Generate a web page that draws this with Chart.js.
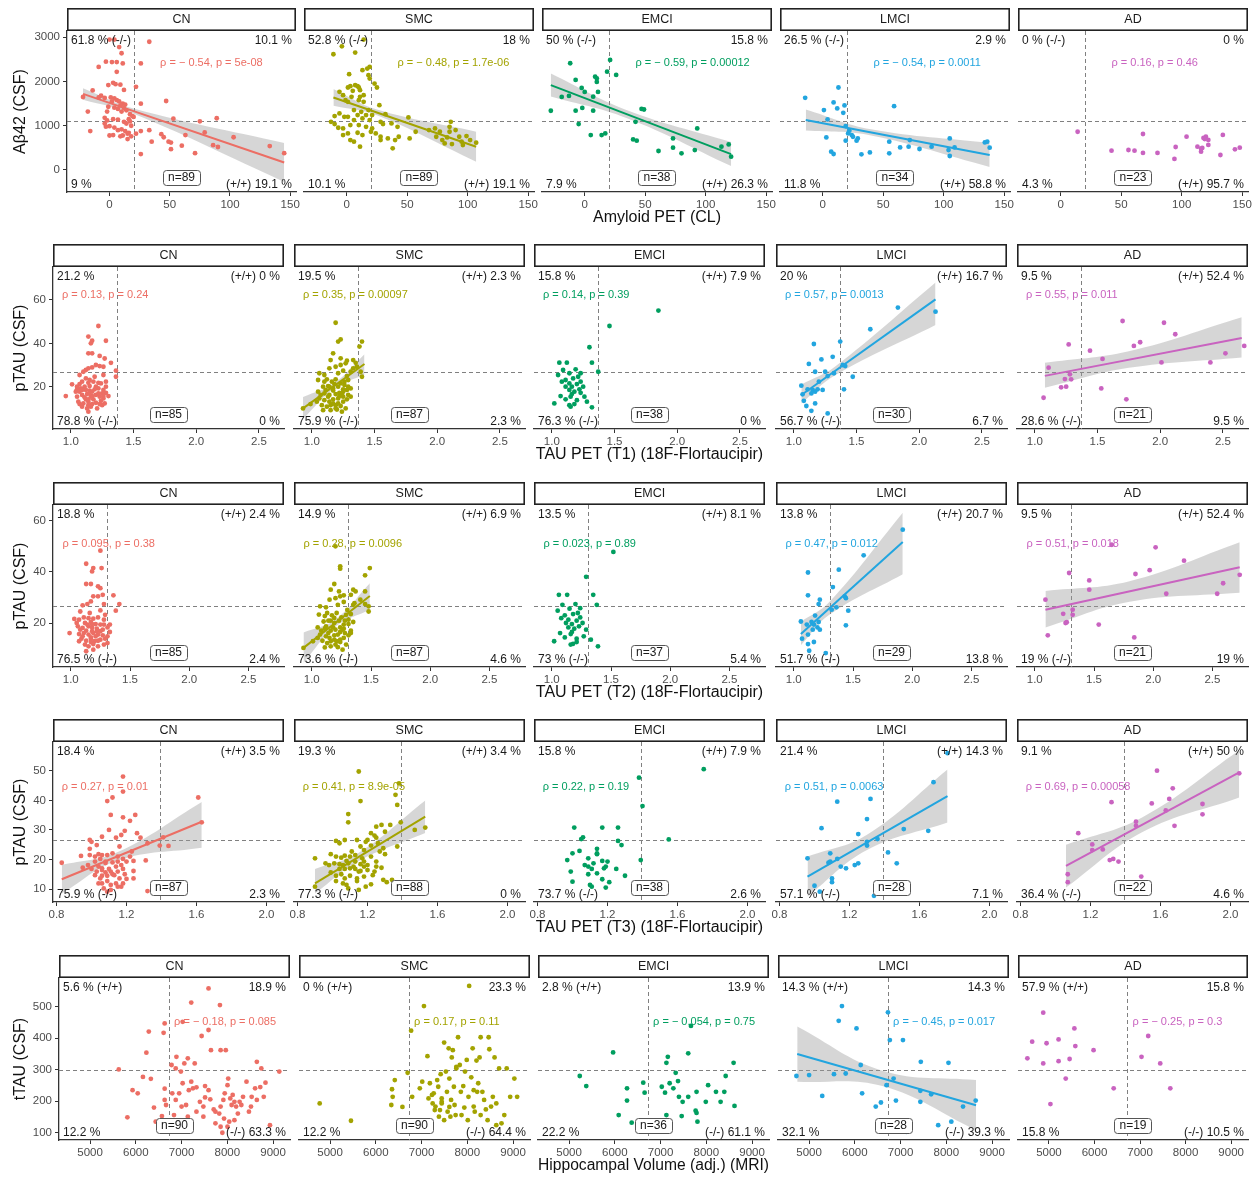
<!DOCTYPE html>
<html>
<head>
<meta charset="utf-8">
<script src="https://cdn.jsdelivr.net/npm/chart.js@4.4.1/dist/chart.umd.min.js"></script>
<style>
  body { margin: 0; background: #fff; }
  #wrap { position: relative; width: 1258px; height: 1178px; overflow: hidden; }
  #wrap canvas { position: absolute; }
</style>
</head>
<body>
<div id="wrap"></div>
<script>
// ---- data ----
const groups = ["CN", "SMC", "EMCI", "LMCI", "AD"];
const groupColors = ["#EC6E64", "#A3A300", "#009E5F", "#22A5DF", "#C963C0"];

// row 1: Amyloid PET (CL) vs Aβ42 (CSF)
const amyCN = [[0,2950],[4,2950],[33,2900],[8,2780],[10,2640],[-3,2450],[2,2440],[6,2440],[11,2410],[26,2410],[-9,2330],[6,2220],[22,1880],[3,1970],[5,1940],[-1,1920],[9,1930],[12,1810],[-14,1800],[-22,1650],[-7,1680],[-9,1640],[-4,1630],[1,1640],[4,1620],[6,1580],[8,1550],[2,1550],[11,1500],[13,1480],[9,1460],[26,1500],[47,1560],[-1,1430],[4,1410],[7,1380],[12,1400],[14,1350],[-18,1320],[-2,1320],[10,1320],[17,1260],[19,1220],[20,1200],[16,1150],[-4,1180],[-2,1120],[3,1150],[7,1140],[12,1090],[14,1050],[17,1100],[18,1000],[53,1160],[75,1100],[89,1170],[-16,880],[-4,1050],[-3,980],[0,990],[4,960],[7,900],[10,920],[13,880],[15,820],[16,840],[18,760],[22,820],[26,880],[0,780],[3,790],[9,760],[11,780],[15,700],[33,900],[43,810],[45,740],[49,640],[51,620],[63,790],[60,550],[79,850],[86,560],[90,520],[35,640],[51,470],[71,380],[26,360],[103,740],[133,540],[145,380]];
const amySMC = [[14,2948],[-4,2797],[-11,2617],[7,2655],[19,2331],[17,2294],[13,2256],[2,2166],[18,2143],[19,2068],[23,1955],[25,1865],[1,1865],[3,1895],[7,1918],[9,1895],[10,1865],[11,1805],[5,1790],[-3,1692],[-6,1767],[4,1654],[11,1654],[14,1692],[-1,1579],[1,1542],[10,1579],[14,1542],[27,1466],[6,1354],[18,1354],[12,1316],[9,1241],[16,1241],[21,1241],[-6,1278],[-10,1218],[-2,1203],[1,1203],[32,1263],[6,1128],[13,1166],[19,1128],[51,1188],[28,1090],[-13,1090],[-10,1038],[10,1015],[16,977],[21,940],[30,1038],[37,1053],[42,977],[-7,955],[-3,940],[3,1015],[1,827],[9,842],[13,790],[20,865],[24,827],[28,752],[34,714],[40,677],[43,752],[-3,790],[3,677],[6,639],[11,526],[28,677],[38,489],[52,714],[57,865],[68,902],[73,940],[74,752],[77,865],[79,677],[81,601],[83,737],[85,977],[86,1090],[90,902],[93,752],[95,639],[96,564],[99,767],[102,677],[107,617],[87,586],[85,865]];
const amyEMCI = [[-12,2414],[21,2489],[18.5,2224],[26,2149],[8.6,2111],[10,2070],[10,1991],[-7.5,2036],[11,1765],[-2.5,1855],[0,1765],[7,1658],[-13,1674],[-19,1652],[-7.5,1342],[-2,1403],[7,1342],[47,1380],[49,1368],[-5,1038],[42,1090],[5,790],[14,790],[17,827],[40,692],[43,662],[73,714],[93,940],[73,504],[61,429],[80,376],[91,451],[113,526],[119,579],[121,300],[-28,1339]];
const amyLMCI = [[-14.5,1632],[13,1865],[1,1354],[9,1527],[12,1391],[18,1459],[17,1293],[4,1143],[19,993],[21,827],[24,790],[29,714],[28,662],[3,737],[19,662],[7,414],[9,361],[32,353],[39,398],[59,1444],[55,639],[55,376],[64,511],[72,677],[71,526],[80,474],[90,526],[105,714],[104,451],[105,316],[109,511],[134,624],[136,639],[138,504],[22,887],[25,752]];
const amyAD = [[14,865],[42,437],[56,452],[61,437],[68,814],[68,385],[80,385],[95,520],[94,249],[104,753],[113,527],[116,414],[117,498],[118,724],[120,753],[122,679],[122,566],[119,700],[116,480],[132,339],[134,792],[144,466],[148,504]];
// fit rows: x, fitted line, lower band, upper band
const amyFitCN = [[-22,20,145],[1720,1330,170],[1590,1270,-270],[1850,1390,610]];
const amyFitSMC = [[-11,25,107],[1640,1300,525],[1450,1235,185],[1830,1365,865]];
const amyFitEMCI = [[-28,35,121],[1920,1260,360],[1660,1170,90],[2180,1350,630]];
const amyFitLMCI = [[-14,40,138],[1130,849,340],[890,780,70],[1370,920,610]];
const amyCorners = [["61.8 % (-/-)","10.1 %","9 %","(+/+) 19.1 %"],["52.8 % (-/-)","18 %","10.1 %","(+/+) 19.1 %"],["50 % (-/-)","15.8 %","7.9 %","(+/+) 26.3 %"],["26.5 % (-/-)","2.9 %","11.8 %","(+/+) 58.8 %"],["0 % (-/-)","0 %","4.3 %","(+/+) 95.7 %"]];
const amyRho = ["ρ = − 0.54, p = 5e-08","ρ = − 0.48, p = 1.7e-06","ρ = − 0.59, p = 0.00012","ρ = − 0.54, p = 0.0011","ρ = 0.16, p = 0.46"];
const amyN = [89, 89, 38, 34, 23];
const amyXTicks = [0, 50, 100, 150];
const amyYTicks = [0, 1000, 2000, 3000];

// row 2: TAU PET (T1)
const t1CN = [[1.22,48],[1.14,43.1],[1.17,41.2],[1.16,40],[1.28,41.2],[1.14,35.4],[1.17,35.4],[1.23,34.2],[1.27,33],[1.32,31],[1.2,30],[1.23,29.5],[1.17,28.9],[1.14,28.5],[1.12,27.7],[1.1,26.9],[1.07,25.4],[1.26,29.2],[1.36,27.4],[1.36,24.6],[1.26,25.4],[1.07,21.2],[1.01,21.1],[1.09,22.3],[1.14,21.8],[1.18,22.3],[1.22,21.8],[1.24,21.5],[1.15,20.3],[1.11,20],[0.96,15.7],[1.05,18.8],[1.07,17.7],[1.12,18.5],[1.15,18.2],[1.19,18.8],[1.22,19.2],[1.26,18.5],[1.28,17.2],[1.3,15.7],[1.05,15.4],[1.09,16.2],[1.13,16.6],[1.16,15.4],[1.2,16.2],[1.23,15.4],[1.26,14.6],[1.06,13.1],[1.1,12.3],[1.14,13.1],[1.17,12],[1.2,12.6],[1.24,13.5],[1.27,12.3],[1.09,10.8],[1.13,10],[1.16,10.8],[1.14,8.5],[1.21,10],[1.18,14.2],[1.12,14.2],[1.08,19.2],[1.04,17.7],[1.25,16.9],[1.28,20],[1.19,24.6],[1.15,23.1],[1.22,16.9],[1.15,17.2],[1.11,15.1],[1.17,17.7],[1.14,11.5],[1.25,11.5],[1.07,12],[1.2,20],[1.12,23.8],[1.28,22.3],[1.05,20],[1.17,15.7],[1.09,18.5],[1.23,12],[1.14,14.2],[1.26,15.7]];
const t1SMC = [[1.19,49.5],[1.23,41.8],[1.21,40.8],[1.17,35.4],[1.4,40.8],[1.38,38.5],[1.15,32.3],[1.23,33.1],[1.28,32],[1.33,32.3],[1.35,31],[1.27,30.8],[1.23,30],[1.19,29.2],[1.14,28.5],[1.06,26.2],[1.1,25.4],[1.21,26.2],[1.25,27.4],[1.31,26.9],[1.39,26.9],[1.4,24.6],[1.36,29.2],[1.12,23.4],[1.16,22.3],[1.19,23.4],[1.23,21.5],[1.26,22.3],[1.29,23.1],[1.09,20],[1.13,20.3],[1.17,19.2],[1.21,20],[1.25,18.8],[1.28,18.5],[1.31,19.2],[1.05,17.7],[1.1,16.9],[1.14,16.2],[1.19,16.6],[1.22,15.7],[1.25,15.4],[1.29,16.2],[1.06,14.6],[1.1,13.8],[1.14,13.1],[1.17,14.2],[1.21,12.3],[1.25,13.1],[1.28,14.2],[1.12,10.8],[1.15,9.2],[1.19,10],[1.23,11.1],[1.27,10],[1.08,11.5],[0.93,10],[0.99,12],[1.04,13.1],[1.09,9.2],[1.25,17.7],[1.17,18.2],[1.13,15.4],[1.21,14.6],[1.24,8.5],[1.19,11.5],[1.31,15.4],[1.1,22.3],[1.05,23.1],[1.29,20],[1.14,20],[1.18,21.2],[1.15,11.5],[1.22,17.2],[1.33,28.5],[1.11,18.5],[1.26,20.8],[1.28,24.9],[1.07,16.2],[1.17,12.3],[1.24,16.6],[1.2,9.5]];
const t1EMCI = [[1.85,55.1],[1.46,48],[1.3,38.2],[1.06,31.1],[1.12,31.1],[1.32,31.1],[1.37,26.9],[1.09,27.7],[1.19,28],[1.05,25.4],[1.14,26.2],[1.23,26.2],[1.11,23.1],[1.17,23.8],[1.23,22.3],[1.14,21.5],[1.2,21.2],[1.25,20],[1.11,20],[1.16,20],[1.14,18.5],[1.18,17.7],[1.22,18.8],[1.07,15.7],[1.15,15.4],[1.26,15.4],[1.11,14.2],[1.2,13.8],[1.02,12.3],[1.14,11.5],[1.18,12],[1.28,13.1],[1.32,10.5],[1.15,10.8],[1.08,22.3],[1.21,24.6],[1.16,16.6],[1.23,17.2]];
const t1LMCI = [[2.13,54.6],[1.83,56.5],[1.61,46.5],[1.37,40.8],[1.16,39.7],[1.31,33.8],[1.12,30.5],[1.22,32.6],[1.39,30],[1.41,29.5],[1.25,26.9],[1.17,26.9],[1.32,26.2],[1.47,24.6],[1.27,24.9],[1.2,22.3],[1.06,20.5],[1.11,18.8],[1.15,18.5],[1.17,17.7],[1.14,16.9],[1.23,18.5],[1.19,18.8],[1.4,18.8],[1.07,16.5],[1.08,13.5],[1.1,11.1],[1.14,8.9],[1.17,12.3],[1.27,7.7]];
const t1AD = [[1.7,50.3],[2.03,49.5],[2.12,44.2],[1.27,39.5],[1.79,38.8],[1.84,40.5],[1.44,36.6],[1.54,32.8],[2.01,31.2],[2.4,31.2],[2.52,35.4],[2.67,38.8],[1.11,28.8],[1.28,25.7],[1.29,23.4],[1.24,23.5],[1.25,20],[1.21,19.7],[1.53,19.2],[1.07,14.9],[1.73,14.2]];
const t1FitSMC = [[0.93,1.18,1.42],[10,20.5,30.5],[5.2,19.3,25.5],[15.2,21.7,35]];
const t1FitLMCI = [[1.06,1.33,2.13],[16.2,27.3,60.3],[12.3,25.3,48.5],[21,29.3,68]];
const t1FitAD = [[1.08,1.75,2.65],[25,32.5,42.5],[19.5,28.7,33.5],[31,36.3,52]];
const t1Corners = [["21.2 %","(+/+) 0 %","78.8 % (-/-)","0 %"],["19.5 %","(+/+) 2.3 %","75.9 % (-/-)","2.3 %"],["15.8 %","(+/+) 7.9 %","76.3 % (-/-)","0 %"],["20 %","(+/+) 16.7 %","56.7 % (-/-)","6.7 %"],["9.5 %","(+/+) 52.4 %","28.6 % (-/-)","9.5 %"]];
const t1Rho = ["ρ = 0.13, p = 0.24","ρ = 0.35, p = 0.00097","ρ = 0.14, p = 0.39","ρ = 0.57, p = 0.0013","ρ = 0.55, p = 0.011"];
const t1N = [85, 87, 38, 30, 21];

// row 3: TAU PET (T2)
const t2CN = [[1.25,48.2],[1.13,43.1],[1.19,41.4],[1.18,40.1],[1.26,41.4],[1.13,35.2],[1.17,35.2],[1.23,34.3],[1.25,33.6],[1.36,30.8],[1.19,30.4],[1.23,30.4],[1.27,31],[1.17,28.4],[1.14,27.4],[1.1,26.9],[1.41,27.4],[1.38,24.8],[1.28,27.4],[1.08,24.5],[1.03,21.6],[1.07,21.3],[1.11,22.2],[1.15,21.9],[1.19,21.7],[1.23,22.2],[1.28,21.3],[1.12,20],[1.17,20.4],[1.21,19.6],[1.25,19.4],[0.99,16.1],[1.06,18.7],[1.1,18.1],[1.15,18.7],[1.18,18.3],[1.22,17.8],[1.27,17.4],[1.31,18.3],[1.33,16.5],[1.07,15.7],[1.11,16.1],[1.15,15.5],[1.19,16.1],[1.23,15.5],[1.27,15.2],[1.31,14.8],[1.09,13.9],[1.13,13.1],[1.17,13.9],[1.2,12.9],[1.25,13.5],[1.29,13.9],[1.12,11.6],[1.15,10.9],[1.19,11.8],[1.23,10.9],[1.13,9],[1.19,9.6],[1.28,11.6],[1.07,12.9],[1.18,16.8],[1.22,16.8],[1.13,17],[1.25,24.9],[1.29,23.2],[1.16,23.9],[1.05,20],[1.33,19.4],[1.17,14.4],[1.21,14.8],[1.1,14.8],[1.25,16.8],[1.14,19.4],[1.18,19.6],[1.28,19.4],[1.08,17.4],[1.23,13.1],[1.17,12.6],[1.31,12.2]];
const t2SMC = [[1.2,49.9],[1.24,42.1],[1.24,41.2],[1.19,35.2],[1.49,41.4],[1.45,38.6],[1.16,33],[1.23,32.3],[1.35,33],[1.37,32.3],[1.33,31],[1.27,30.8],[1.24,30.4],[1.2,29.7],[1.15,29.1],[1.07,26.5],[1.12,26.1],[1.22,27.1],[1.27,28.2],[1.35,27.1],[1.45,27.4],[1.48,24.5],[1.41,29.1],[1.13,23.9],[1.17,23],[1.21,23.9],[1.25,22.2],[1.29,23.2],[1.33,23.5],[1.1,20.6],[1.14,20.9],[1.19,20],[1.23,20.9],[1.27,19.4],[1.31,19.6],[1.35,20.4],[1.05,18.3],[1.11,17.8],[1.16,17],[1.2,17.4],[1.24,16.5],[1.28,16.1],[1.33,17],[1.07,15.5],[1.12,14.8],[1.15,14.2],[1.19,15.2],[1.24,13.5],[1.27,14.2],[1.31,15.2],[1.13,12.2],[1.16,10.9],[1.2,11.6],[1.24,12.6],[1.29,11.6],[1.09,13.1],[0.93,10.3],[1.01,12.9],[1.05,14.2],[1.11,10.5],[1.27,17.8],[1.18,18.3],[1.14,16.1],[1.22,15.5],[1.26,9.6],[1.21,12.9],[1.33,16.1],[1.11,22.7],[1.06,23.3],[1.31,21.3],[1.16,20.9],[1.19,22],[1.16,12.9],[1.24,18.3],[1.36,27.7],[1.12,18.7],[1.28,20.9],[1.3,25.1],[1.08,17],[1.19,13.5],[1.26,17.4],[1.22,10.6],[1.48,26.5],[1.45,32.3]];
const t2EMCI = [[1.52,47.7],[1.29,38],[1.06,31],[1.13,31],[1.35,31],[1.38,27.1],[1.09,27.1],[1.2,27.4],[1.05,24.8],[1.15,25.6],[1.24,25.8],[1.11,23],[1.18,23.5],[1.24,22.2],[1.14,21.3],[1.21,20.9],[1.26,20],[1.12,20],[1.17,19.6],[1.14,18.3],[1.19,17.8],[1.23,18.7],[1.29,17.4],[1.07,16.1],[1.16,15.7],[1.27,14.8],[1.11,14.4],[1.21,13.9],[1.02,12.9],[1.18,11.9],[1.21,12.6],[1.33,13.5],[1.39,10.9],[1.16,11.6],[1.08,21.9],[1.22,23.9],[1.17,16.5]];
const t2LMCI = [[1.92,56.4],[1.59,46.4],[1.38,40.8],[1.12,39.7],[1.33,34],[1.12,30.8],[1.22,29.1],[1.21,27.4],[1.43,30.4],[1.44,29.7],[1.32,25.2],[1.36,26.1],[1.46,24.8],[1.18,22.9],[1.15,20.4],[1.06,20.6],[1.11,19.4],[1.17,19.4],[1.2,18.3],[1.22,17.4],[1.16,17.4],[1.44,19.1],[1.07,13.9],[1.12,11.8],[1.17,12.6],[1.13,9.2],[1.27,8.3],[1.21,20.4],[1.12,15.5]];
const t2AD = [[1.65,50.5],[2.02,49.5],[2.26,44.3],[1.29,39.5],[1.85,39.1],[1.97,40.6],[1.46,36.6],[1.46,33],[2.11,31.4],[2.54,31.4],[2.59,35.5],[2.73,38.8],[1.09,29.1],[1.32,25.2],[1.32,23.2],[1.24,23.6],[1.26,20],[1.27,20.3],[1.54,19.4],[1.11,15.2],[1.84,14.4]];
const t2FitSMC = [[0.93,1.2,1.49],[10.3,20,30.5],[4.5,18.6,25.2],[16.3,21.4,35.5]];
const t2FitLMCI = [[1.06,1.3,1.92],[15.7,25.7,51.6],[11.3,23.2,39],[20.5,28.2,63]];
const t2FitAD = [[1.09,1.8,2.73],[25.2,32.3,41.7],[18.3,28.3,31.8],[32.5,36.3,51.5]];
const t2Corners = [["18.8 %","(+/+) 2.4 %","76.5 % (-/-)","2.4 %"],["14.9 %","(+/+) 6.9 %","73.6 % (-/-)","4.6 %"],["13.5 %","(+/+) 8.1 %","73 % (-/-)","5.4 %"],["13.8 %","(+/+) 20.7 %","51.7 % (-/-)","13.8 %"],["9.5 %","(+/+) 52.4 %","19 % (-/-)","19 %"]];
const t2Rho = ["ρ = 0.095, p = 0.38","ρ = 0.28, p = 0.0096","ρ = 0.023, p = 0.89","ρ = 0.47, p = 0.012","ρ = 0.51, p = 0.018"];
const t2N = [85, 87, 37, 29, 21];
const tauXTicks = [1.0, 1.5, 2.0, 2.5];
const tauYTicks = [20, 40, 60];

// row 4: TAU PET (T3)
const t3CN = [[0.83,18.9],[1.61,41],[1.63,32.6],[1.18,48.1],[1.18,43],[1.12,41],[1.09,39.8],[1.11,35.1],[1.18,34.3],[1.25,35.1],[1.22,33.1],[1.1,30],[1.19,29.7],[1.17,28.3],[1.26,28.9],[1.28,27.4],[1.06,27.7],[1.14,27.4],[0.99,26.6],[1,26],[1.03,24.9],[0.99,23.6],[1.32,25.5],[1.41,27.5],[1.39,24.7],[1.44,24.6],[0.94,21.2],[0.99,21.5],[1.04,21.8],[1.06,21.5],[1.09,21.5],[1.12,22.1],[1.15,21],[1.18,20.2],[1.22,21],[1.05,20.2],[1.02,19.3],[1.08,19.3],[1.12,19],[1.15,19.3],[1.2,19.3],[1.31,19.7],[0.98,18.1],[1.04,17.6],[1.06,17],[1.1,16.8],[1.14,17.6],[1.18,16.8],[1.24,19.5],[0.95,17.2],[1,16.8],[1.03,15.9],[1.06,16.4],[1.08,15.6],[1.11,15.9],[1.15,15.9],[1.19,15],[1.24,16.1],[1.02,14.7],[1.06,14.5],[1.09,14.5],[1.12,15],[1.16,13.6],[1.2,13.4],[1.24,13.6],[1.04,11.9],[1.06,11.9],[1.09,12.7],[1.11,11.4],[1.14,11.9],[1.17,10.8],[1.09,9.1],[1.11,9.7],[1.32,9.3],[1.05,13.6],[1.16,24.4],[1.23,22.7],[1.18,11.9],[1.02,21],[1.08,18.8],[1.13,14.7],[1.15,10.8],[1.07,10.2],[1.17,18.1]];
const t3SMC = [[1.15,49.8],[1.38,45.8],[1.16,39.8],[1.09,35.4],[1.09,32.6],[1.28,31.7],[1.33,31.7],[1.25,31.1],[1.36,41.9],[1.37,38.5],[1.39,32.6],[1.47,30],[1.53,30.8],[1.37,24.4],[1.22,28.9],[1.24,28.1],[1.25,27.4],[1.2,26.6],[1.19,26],[1.14,26.6],[1.02,26.3],[1.04,25.5],[1.07,26.6],[1.26,25.5],[1.22,24.7],[1.29,23.8],[1.18,23.2],[1.27,22.7],[0.99,21.8],[1.02,21],[1.05,20.6],[1.07,21.3],[1.1,21],[1.13,21.5],[1.17,20.4],[1.22,21],[1.3,21.8],[0.9,20.4],[0.96,18.7],[0.98,18.1],[1.01,18.7],[1.04,18.4],[1.06,18.1],[1.09,18.7],[1.13,19.3],[1.16,18.4],[1.2,18.1],[1.25,17.6],[1.1,17],[1.13,16.8],[1.16,16.1],[1.2,16.4],[1.24,15.9],[1.28,17.2],[0.99,15.6],[1.02,14.5],[1.05,15],[1.07,13.6],[1.1,14.5],[1.14,13.6],[1.18,14.2],[1.23,14.7],[1.29,13.1],[1.31,12.3],[1.34,13.1],[1.22,11.6],[0.9,10.8],[1.06,11.9],[1.08,11.4],[1.09,10.2],[1.15,9.7],[1.19,10.8],[1.14,12.7],[1.08,19.5],[1.18,19.3],[1.11,22.7],[1.16,24.4],[1.12,17.6],[1.07,16.8],[1.04,16.8],[1.02,12.7],[1.25,19.3],[1.15,15.9],[1.18,17.6],[1.3,29.4]];
const t3EMCI = [[1.75,50.6],[1.38,47.7],[1.4,38.1],[1.55,26.8],[1.39,19.8],[1.01,30.8],[1.17,30.8],[1.26,30.8],[1.06,27.5],[1.05,26.9],[1.26,26.3],[1.28,24.9],[1.04,22.9],[1.14,23.6],[1.14,22.1],[1.14,21.8],[0.97,19.8],[1,22.1],[1.09,20.4],[1.17,19.5],[1.2,19.3],[1.12,18.7],[1.09,17.6],[1.19,17.6],[1.11,16.8],[1.18,17],[1.25,16.8],[0.99,15.9],[1.09,15],[1.3,14.5],[1.17,13.3],[1,12.5],[1.21,12.3],[1.1,11.4],[1.11,10.8],[1.19,10.5],[1.14,15.3],[1.07,18.1]];
const t3LMCI = [[1.76,56],[1.68,46.2],[1.13,39.6],[1.32,40.5],[1.3,33.7],[1.04,30.6],[1.51,30.3],[1.65,29.7],[1.25,28.6],[1.36,26.9],[1.3,26],[1.3,24.7],[1.42,22.4],[1.09,22.1],[0.96,20.4],[1.13,20.2],[1.08,18.9],[1.09,19.3],[1.23,18.1],[1.25,18.7],[1.15,17.6],[1.18,17],[1.47,18.7],[1.1,13.6],[1.1,12.3],[1,11.1],[1.03,9.1],[1.34,7.7]];
const t3AD = [[2.05,49.2],[1.58,50.1],[1.67,44.1],[1.32,39.4],[1.55,39],[1.65,40.5],[1.63,36.6],[1.84,38.8],[1.84,35.3],[1.68,31.4],[1.46,32.8],[1.46,31.4],[1.13,28.9],[1.21,25.1],[1.21,23.2],[1.27,23.4],[1.31,19.8],[1.33,20.2],[1.36,19.3],[1.07,15],[1.07,12.3],[1.49,14.2]];
const t3FitCN = [[0.83,1.15,1.63],[13.3,21.1,32.8],[8.5,19.7,24],[18.1,22.5,39.5]];
const t3FitSMC = [[0.9,1.15,1.53],[11.9,20.9,34.5],[8.5,19.5,29],[16.8,22.3,40]];
const t3FitLMCI = [[0.96,1.3,1.76],[14.2,25.8,41.5],[7.4,23.2,32.5],[21,28.4,50.5]];
const t3FitAD = [[1.06,1.5,2.05],[17.8,31.9,49.5],[10.5,29.4,41],[25,34.4,57]];
const t3Corners = [["18.4 %","(+/+) 3.5 %","75.9 % (-/-)","2.3 %"],["19.3 %","(+/+) 3.4 %","77.3 % (-/-)","0 %"],["15.8 %","(+/+) 7.9 %","73.7 % (-/-)","2.6 %"],["21.4 %","(+/+) 14.3 %","57.1 % (-/-)","7.1 %"],["9.1 %","(+/+) 50 %","36.4 % (-/-)","4.6 %"]];
const t3Rho = ["ρ = 0.27, p = 0.01","ρ = 0.41, p = 8.9e-05","ρ = 0.22, p = 0.19","ρ = 0.51, p = 0.0063","ρ = 0.69, p = 0.00058"];
const t3N = [87, 88, 38, 28, 22];
const t3XTicks = [0.8, 1.2, 1.6, 2.0];
const t3YTicks = [10, 20, 30, 40, 50];

// row 5: Hippocampal volume vs tTAU (CSF)
const hipCN = [[5626,301],[5815,149],[5928,235],[6041,225],[6155,277],[6283,421],[6230,354],[6328,271],[6396,180],[6434,135],[6570,153],[6630,240],[6630,204],[6660,188],[6630,447],[6607,417],[6781,315],[6872,304],[6887,341],[6985,294],[7023,452],[7060,320],[7136,336],[7211,513],[7589,426],[7438,407],[7838,505],[7589,558],[7853,362],[7966,362],[6947,225],[7098,188],[7158,235],[7249,241],[7325,244],[7400,198],[7476,183],[7513,248],[7589,235],[7627,206],[7702,174],[7740,167],[7823,161],[7853,183],[7913,204],[7943,225],[8004,251],[8019,272],[8064,209],[8094,188],[8117,220],[8155,198],[8192,183],[8230,161],[8268,198],[8306,188],[8343,214],[8419,262],[8472,167],[8517,183],[8532,214],[8607,241],[8645,204],[8720,245],[8796,214],[8834,259],[8743,304],[8932,124],[9136,294],[8645,325],[8004,119],[7891,100],[7476,151],[7325,167],[7136,151],[7000,183],[6796,225],[6872,204],[6834,156],[6570,130],[7287,320],[7740,130],[7928,145],[7853,119],[8042,135],[8155,140],[7642,362],[7513,212],[7211,262],[7023,257]];
const hipSMC = [[4772,193],[5456,138],[6353,238],[6368,214],[6338,188],[6414,267],[6581,182],[6695,290],[6771,424],[6794,214],[6961,241],[7052,502],[7128,343],[7151,209],[7227,220],[7303,183],[7341,267],[7364,246],[7402,172],[7417,286],[7440,193],[7493,386],[7531,294],[7554,230],[7569,167],[7592,368],[7607,272],[7645,204],[7660,339],[7706,246],[7721,188],[7759,304],[7797,403],[7835,315],[7858,230],[7873,156],[7911,248],[7949,294],[7987,331],[8025,214],[8040,566],[8086,276],[8116,368],[8162,167],[8200,329],[8215,230],[8238,257],[8268,339],[8291,403],[8329,230],[8367,204],[8405,174],[8466,403],[8481,365],[8519,183],[8557,214],[8595,339],[8633,193],[8694,304],[8747,130],[8808,156],[8861,304],[8937,214],[9028,272],[9089,214],[8139,235],[7440,209],[7265,225],[7181,257],[7242,193],[7630,151],[7744,156],[7934,180],[8010,140],[7493,140],[7379,151],[7014,262],[8139,183],[8291,156],[8443,140],[8633,124],[7683,362],[7759,309],[7440,198],[7607,182],[7288,172]];
const hipEMCI = [[5233,280],[5375,248],[5962,355],[6084,156],[6266,241],[6266,202],[6368,132],[6621,259],[6651,227],[7026,246],[7097,227],[7127,322],[7158,341],[7127,156],[7198,257],[7279,241],[7330,290],[7381,264],[7401,214],[7461,153],[7664,439],[7604,352],[7604,214],[7786,230],[7766,170],[7786,163],[7806,135],[7988,198],[8039,251],[8211,230],[8312,198],[8393,230],[8423,280],[8596,322],[8616,185],[7482,198]];
const hipLMCI = [[4723,280],[5000,283],[5287,217],[5544,286],[5647,455],[5718,502],[5800,288],[6036,431],[6128,315],[6159,225],[6457,183],[6570,196],[6693,251],[6724,482],[6765,394],[6847,272],[6898,202],[7052,394],[7124,103],[7442,325],[7432,233],[7432,198],[7668,222],[7822,124],[8047,322],[8109,135],[8365,183],[8642,202]];
const hipAD = [[4526,336],[4631,389],[4874,481],[4874,320],[4947,384],[5032,191],[5211,396],[5211,327],[5368,272],[5453,334],[5558,431],[5579,375],[5979,362],[6421,241],[7032,341],[7179,407],[7443,320],[7664,241]];
const hipFitLMCI = [[4740,6600,8650],[350,272.5,187],[262,248,108],[437,297,267]];
const hipCorners = [["5.6 % (+/+)","18.9 %","12.2 %","(-/-) 63.3 %"],["0 % (+/+)","23.3 %","12.2 %","(-/-) 64.4 %"],["2.8 % (+/+)","13.9 %","22.2 %","(-/-) 61.1 %"],["14.3 % (+/+)","14.3 %","32.1 %","(-/-) 39.3 %"],["57.9 % (+/+)","15.8 %","15.8 %","(-/-) 10.5 %"]];
const hipRho = ["ρ = − 0.18, p = 0.085","ρ = 0.17, p = 0.11","ρ = − 0.054, p = 0.75","ρ = − 0.45, p = 0.017","ρ = − 0.25, p = 0.3"];
const hipN = [90, 90, 36, 28, 19];
const hipXTicks = [5000, 6000, 7000, 8000, 9000];
const hipYTicks = [100, 200, 300, 400, 500];

// ---- row setup built from the arrays above ----
const asInt = v => String(v);
const oneDec = v => v.toFixed(1);
const rows = [
  { pts: [amyCN, amySMC, amyEMCI, amyLMCI, amyAD], fits: [amyFitCN, amyFitSMC, amyFitEMCI, amyFitLMCI, null],
    corners: amyCorners, rho: amyRho, n: amyN, xTicks: amyXTicks, yTicks: amyYTicks,
    xr: [-35.3, 154.8], yr: [-498, 3143], cut: [20, 1100], rhoAt: [42, 2420],
    xTitle: "Amyloid PET (CL)", yTitle: "Aβ42 (CSF)", fmt: asInt },
  { pts: [t1CN, t1SMC, t1EMCI, t1LMCI, t1AD], fits: [null, t1FitSMC, null, t1FitLMCI, t1FitAD],
    corners: t1Corners, rho: t1Rho, n: t1N, xTicks: tauXTicks, yTicks: tauYTicks,
    xr: [0.858, 2.70], yr: [0.5, 75.2], cut: [1.37, 26.7], rhoAt: [0.93, 62.3],
    xTitle: "TAU PET (T1) (18F-Flortaucipir)", yTitle: "pTAU (CSF)", fmt: oneDec },
  { pts: [t2CN, t2SMC, t2EMCI, t2LMCI, t2AD], fits: [null, t2FitSMC, null, t2FitLMCI, t2FitAD],
    corners: t2Corners, rho: t2Rho, n: t2N, xTicks: tauXTicks, yTicks: tauYTicks,
    xr: [0.85, 2.80], yr: [2.86, 66.0], cut: [1.31, 26.7], rhoAt: [0.93, 50.9],
    xTitle: "TAU PET (T2) (18F-Flortaucipir)", yTitle: "pTAU (CSF)", fmt: oneDec },
  { pts: [t3CN, t3SMC, t3EMCI, t3LMCI, t3AD], fits: [t3FitCN, t3FitSMC, null, t3FitLMCI, t3FitAD],
    corners: t3Corners, rho: t3Rho, n: t3N, xTicks: t3XTicks, yTicks: t3YTicks,
    xr: [0.78, 2.10], yr: [5.6, 59.8], cut: [1.39, 26.7], rhoAt: [0.83, 44.7],
    xTitle: "TAU PET (T3) (18F-Flortaucipir)", yTitle: "pTAU (CSF)", fmt: oneDec },
  { pts: [hipCN, hipSMC, hipEMCI, hipLMCI, hipAD], fits: [null, null, null, hipFitLMCI, null],
    corners: hipCorners, rho: hipRho, n: hipN, xTicks: hipXTicks, yTicks: hipYTicks,
    xr: [4320, 9370], yr: [77, 591], cut: [6720, 300], rhoAt: [6836, 452],
    xTitle: "Hippocampal Volume (adj.) (MRI)", yTitle: "tTAU (CSF)", fmt: asInt }
];

// panel geometry (page pixels)
const rowBoxes = [
  { top: 8,   plotTop: 31,  plotBot: 192,  L: [67, 304, 542, 780, 1018], R: [296, 534, 772, 1010, 1248] },
  { top: 244, plotTop: 267, plotBot: 429,  L: [53, 294, 534, 776, 1017], R: [284, 525, 765, 1007, 1248] },
  { top: 482, plotTop: 505, plotBot: 667,  L: [53, 294, 534, 776, 1017], R: [284, 525, 765, 1007, 1248] },
  { top: 719, plotTop: 742, plotBot: 902,  L: [53, 294, 534, 776, 1017], R: [284, 525, 765, 1007, 1248] },
  { top: 955, plotTop: 978, plotBot: 1140, L: [59, 299, 538, 778, 1018], R: [290, 530, 769, 1009, 1248] }
];

const FONT = '"Liberation Sans", Arial, Helvetica, sans-serif';
const PADX = 16, XH = 40;
Chart.defaults.font.family = FONT;

// strips, reference lines, corner texts, rho and n labels
const panelDeco = {
  id: "panelDeco",
  beforeDatasetsDraw(chart, args, o) {
    const { ctx, chartArea: a, scales } = chart;
    const px = Math.round(scales.x.getPixelForValue(o.cutX)) + 0.5;
    const py = Math.round(scales.y.getPixelForValue(o.cutY)) + 0.5;
    ctx.save();
    ctx.strokeStyle = "#808080";
    ctx.lineWidth = 1;
    ctx.setLineDash([4, 3]);
    ctx.beginPath();
    ctx.moveTo(px, a.top); ctx.lineTo(px, a.bottom);
    ctx.moveTo(a.left, py); ctx.lineTo(a.right, py);
    ctx.stroke();
    ctx.restore();
  },
  afterDatasetsDraw(chart, args, o) {
    const { ctx, chartArea: a, scales } = chart;
    ctx.save();
    ctx.textBaseline = "middle";
    ctx.fillStyle = "#1a1a1a";
    ctx.font = "12px " + FONT;
    ctx.textAlign = "left";
    ctx.fillText(o.corners[0], a.left + 4, a.top + 10);
    ctx.fillText(o.corners[2], a.left + 4, a.bottom - 7);
    ctx.textAlign = "right";
    ctx.fillText(o.corners[1], a.right - 4, a.top + 10);
    ctx.fillText(o.corners[3], a.right - 4, a.bottom - 7);

    ctx.font = "11px " + FONT;
    ctx.fillStyle = o.color;
    ctx.textAlign = "left";
    ctx.fillText(o.rho, scales.x.getPixelForValue(o.rhoAt[0]), scales.y.getPixelForValue(o.rhoAt[1]));

    ctx.font = "12px " + FONT;
    const label = "n=" + o.n;
    const tw = ctx.measureText(label).width;
    const cx = (a.left + a.right) / 2, cy = a.bottom - 15;
    const bw = tw + 10, bh = 15;
    ctx.beginPath();
    ctx.roundRect(Math.round(cx - bw / 2) + 0.5, Math.round(cy - bh / 2) + 0.5, Math.round(bw), bh, 3);
    ctx.fillStyle = "#fff";
    ctx.fill();
    ctx.strokeStyle = "#555";
    ctx.lineWidth = 1;
    ctx.stroke();
    ctx.fillStyle = "#1a1a1a";
    ctx.textAlign = "center";
    ctx.fillText(label, cx, cy + 0.5);
    ctx.restore();
  },
  afterDraw(chart, args, o) {
    const { ctx, chartArea: a } = chart;
    ctx.save();
    ctx.fillStyle = "#fff";
    ctx.fillRect(a.left, 0, a.width, a.top);
    ctx.strokeStyle = "#222";
    ctx.lineWidth = 1.6;
    ctx.strokeRect(a.left + 0.8, 0.8, a.width - 1.6, a.top - 1.6);
    ctx.fillStyle = "#1a1a1a";
    ctx.font = "12.5px " + FONT;
    ctx.textAlign = "center";
    ctx.textBaseline = "middle";
    ctx.fillText(o.strip, (a.left + a.right) / 2, a.top / 2 + 0.5);
    ctx.restore();
  }
};
Chart.register(panelDeco);

const wrap = document.getElementById("wrap");
const toXY = arr => arr.map(p => ({ x: p[0], y: p[1] }));

rows.forEach((row, r) => {
  const box = rowBoxes[r];
  groups.forEach((g, c) => {
    const color = groupColors[c];
    const left = c === 0 ? 0 : box.L[c] - PADX;
    const w = box.R[c] + PADX - left;
    const h = box.plotBot - box.top + XH;
    const cv = document.createElement("canvas");
    cv.width = w; cv.height = h;
    cv.style.left = left + "px"; cv.style.top = box.top + "px";
    cv.style.width = w + "px"; cv.style.height = h + "px";
    wrap.appendChild(cv);

    const ds = [];
    const fit = row.fits[c];
    if (fit) {
      ds.push({ type: "line", data: fit[0].map((x, i) => ({ x, y: fit[3][i] })), borderWidth: 0, pointRadius: 0,
                tension: 0.4, fill: "+1", backgroundColor: "rgba(153,153,153,0.4)", order: 3 });
      ds.push({ type: "line", data: fit[0].map((x, i) => ({ x, y: fit[2][i] })), borderWidth: 0, pointRadius: 0,
                tension: 0.4, fill: false, order: 3 });
    }
    ds.push({ type: "scatter", data: toXY(row.pts[c]), backgroundColor: color, borderWidth: 0,
              pointRadius: 2.4, pointHoverRadius: 2.4, order: 2 });
    if (fit) {
      ds.push({ type: "line", data: [{ x: fit[0][0], y: fit[1][0] }, { x: fit[0][2], y: fit[1][2] }],
                borderColor: color, borderWidth: 2, pointRadius: 0, tension: 0, fill: false, order: 1 });
    }

    const yScale = {
      type: "linear", min: row.yr[0], max: row.yr[1], display: c === 0,
      afterBuildTicks: s => { s.ticks = row.yTicks.map(v => ({ value: v })); },
      grid: { drawOnChartArea: false, drawTicks: true, tickLength: 4, color: "#333" },
      border: { display: true, color: "#333", width: 1.3 },
      ticks: { padding: 3, color: "#4d4d4d", font: { size: 11.5 }, callback: v => String(v) },
      title: { display: true, text: row.yTitle, color: "#111", font: { size: 16 },
               padding: { top: 11, bottom: 0 } }
    };
    if (c === 0) yScale.afterFit = s => { s.width = box.L[0]; };

    new Chart(cv, {
      type: "scatter",
      data: { datasets: ds },
      options: {
        responsive: false, animation: false, devicePixelRatio: 1, events: [],
        layout: { padding: { left: c === 0 ? 0 : PADX, right: PADX, top: box.plotTop - box.top, bottom: 0 } },
        plugins: {
          legend: { display: false }, tooltip: { enabled: false },
          panelDeco: { strip: g, color, corners: row.corners[c], rho: row.rho[c], n: row.n[c],
                       rhoAt: row.rhoAt, cutX: row.cut[0], cutY: row.cut[1] }
        },
        scales: {
          x: {
            type: "linear", min: row.xr[0], max: row.xr[1],
            afterBuildTicks: s => { s.ticks = row.xTicks.map(v => ({ value: v })); },
            afterFit: s => { s.height = XH; },
            grid: { drawOnChartArea: false, drawTicks: true, tickLength: 4, color: "#333" },
            border: { display: true, color: "#333", width: 1.3 },
            ticks: { autoSkip: false, maxRotation: 0, minRotation: 0, padding: 2, color: "#4d4d4d",
                     font: { size: 11.5 }, callback: v => row.fmt(v) },
            title: { display: c === 2, text: row.xTitle, color: "#111", font: { size: 16 },
                     padding: { top: 0, bottom: 5 } }
          },
          y: yScale
        }
      }
    });
  });
});
</script>
</body>
</html>
